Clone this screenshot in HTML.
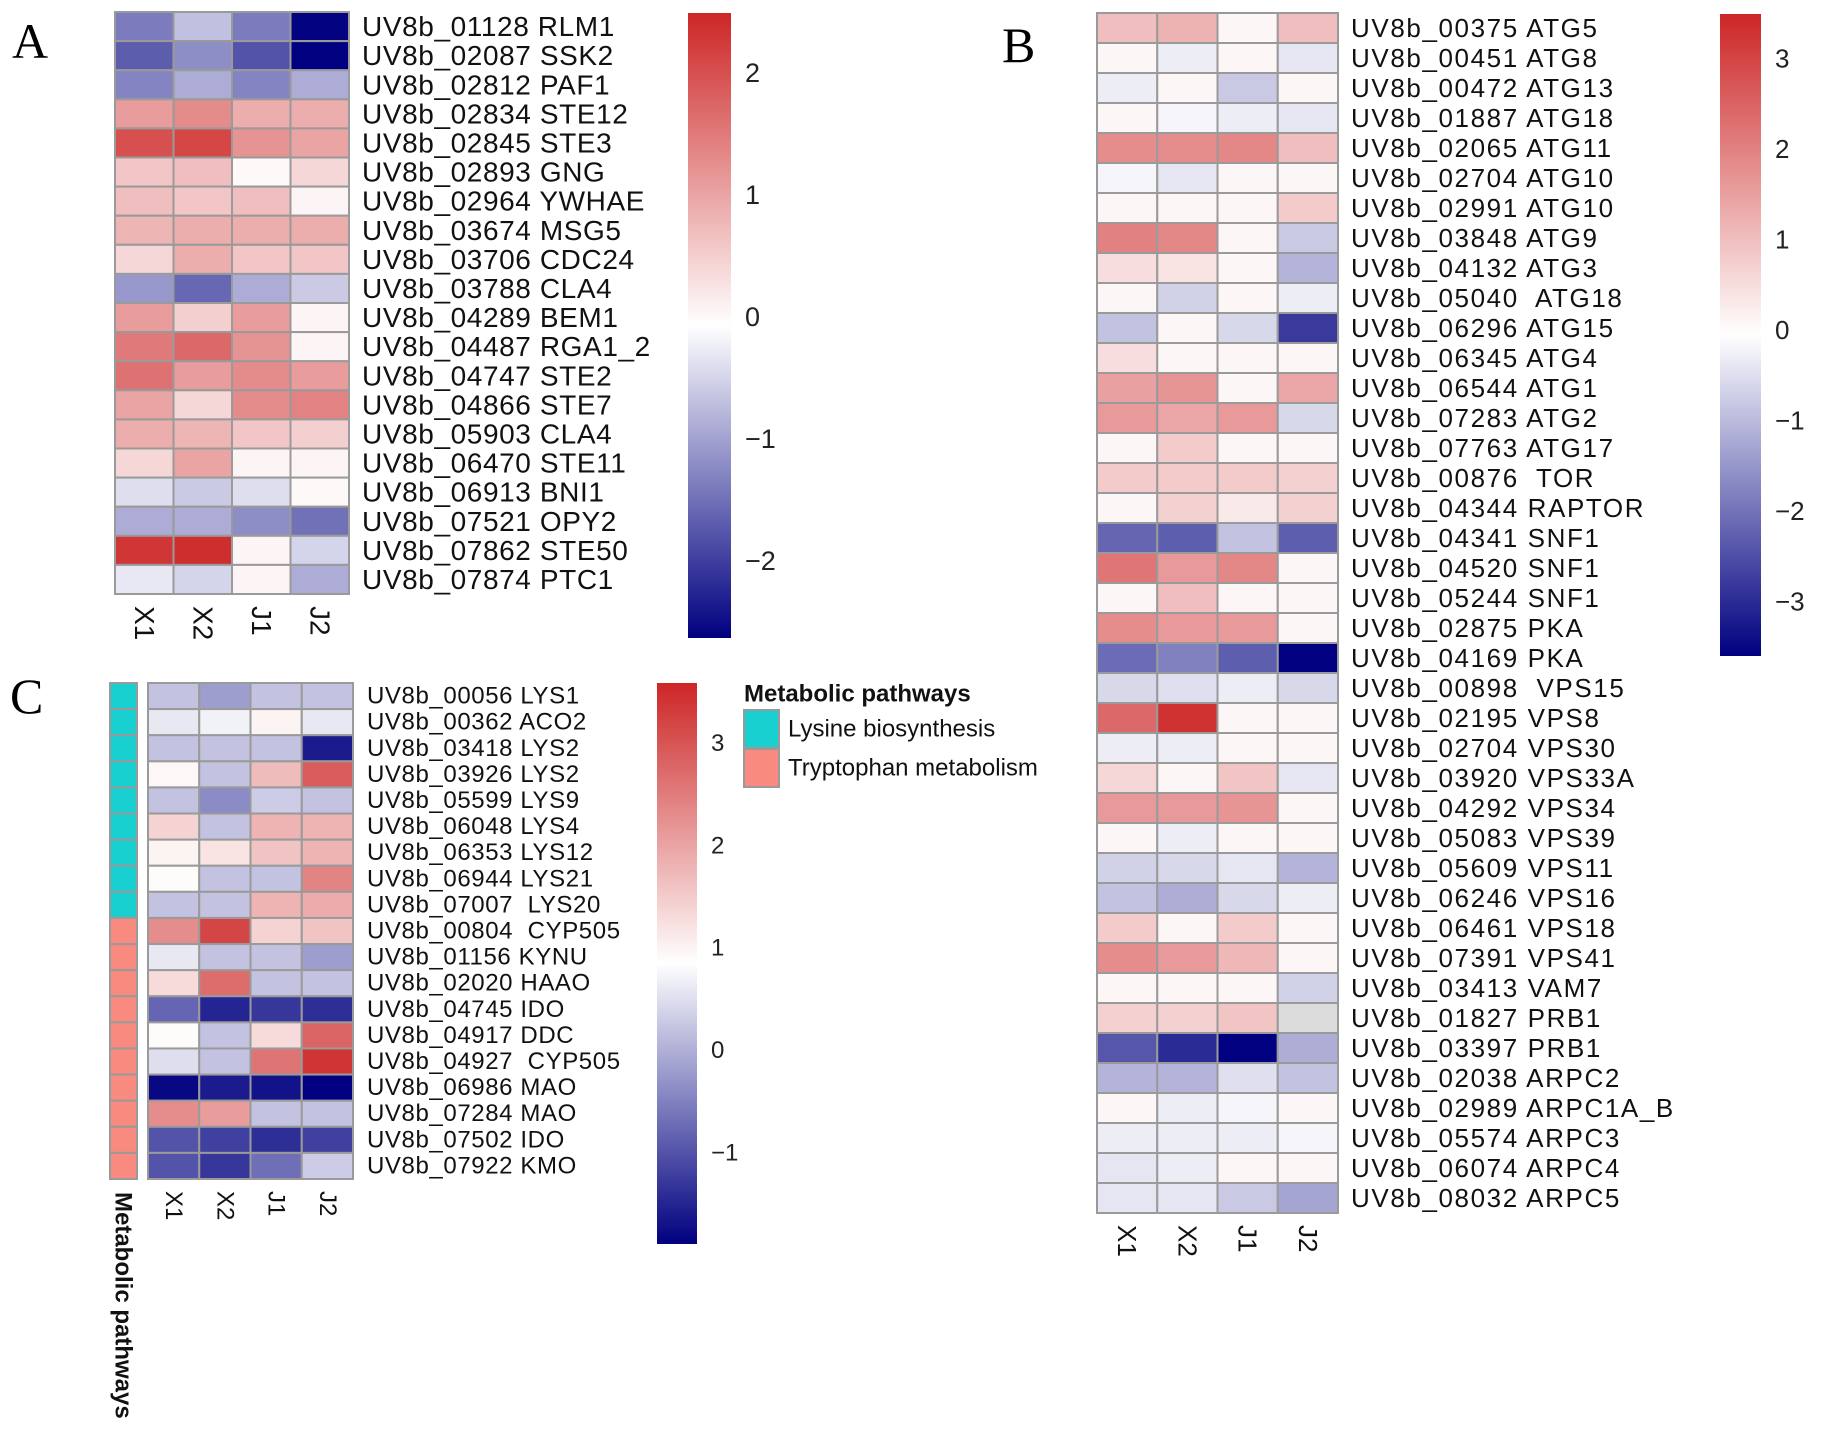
<!DOCTYPE html>
<html><head><meta charset="utf-8"><style>
body{margin:0;background:#fff}
svg{display:block;font-family:"Liberation Sans",Arial,sans-serif}
svg text{white-space:pre}
</style></head><body>
<svg id="fig" width="1831" height="1448" viewBox="0 0 1831 1448" xmlns="http://www.w3.org/2000/svg">
<defs>
<linearGradient id="grad" x1="0" y1="1" x2="0" y2="0">
<stop offset="0" stop-color="#000080"/><stop offset="0.25" stop-color="#7f7fbf"/><stop offset="0.5" stop-color="#ffffff"/><stop offset="0.75" stop-color="#e69292"/><stop offset="1" stop-color="#cd2626"/>
</linearGradient>
</defs>
<text x="12" y="58" font-family="Liberation Serif,serif" font-size="50">A</text>
<text x="1002" y="62" font-family="Liberation Serif,serif" font-size="50">B</text>
<text x="10" y="713" font-family="Liberation Serif,serif" font-size="50">C</text>
</svg>
<script>
const samples = ["X1","X2","J1","J2"];
const genesA = ["UV8b_01128 RLM1","UV8b_02087 SSK2","UV8b_02812 PAF1","UV8b_02834 STE12","UV8b_02845 STE3","UV8b_02893 GNG","UV8b_02964 YWHAE","UV8b_03674 MSG5","UV8b_03706 CDC24","UV8b_03788 CLA4","UV8b_04289 BEM1","UV8b_04487 RGA1_2","UV8b_04747 STE2","UV8b_04866 STE7","UV8b_05903 CLA4","UV8b_06470 STE11","UV8b_06913 BNI1","UV8b_07521 OPY2","UV8b_07862 STE50","UV8b_07874 PTC1"];
const valuesA = [[-1.4,-0.7,-1.4,-2.6],[-1.7,-1.2,-1.8,-2.63],[-1.3,-0.9,-1.3,-0.9],[1.1,1.3,0.9,0.9],[2.0,2.1,1.2,1.0],[0.6,0.7,0.0,0.4],[0.7,0.6,0.7,0.05],[0.8,0.9,0.9,0.9],[0.4,0.9,0.6,0.6],[-1.1,-1.6,-0.9,-0.6],[1.1,0.5,1.1,0.05],[1.5,1.7,1.2,0.05],[1.6,1.1,1.3,1.1],[1.0,0.4,1.3,1.4],[0.9,0.8,0.6,0.5],[0.4,1.0,0.05,0.05],[-0.4,-0.6,-0.4,0.0],[-0.9,-0.9,-1.2,-1.5],[2.3,2.4,0.05,-0.5],[-0.3,-0.5,0.05,-0.9]];
const ticksA = [2,1,0,-1,-2];
const genesB = ["UV8b_00375 ATG5","UV8b_00451 ATG8","UV8b_00472 ATG13","UV8b_01887 ATG18","UV8b_02065 ATG11","UV8b_02704 ATG10","UV8b_02991 ATG10","UV8b_03848 ATG9","UV8b_04132 ATG3","UV8b_05040  ATG18","UV8b_06296 ATG15","UV8b_06345 ATG4","UV8b_06544 ATG1","UV8b_07283 ATG2","UV8b_07763 ATG17","UV8b_00876  TOR","UV8b_04344 RAPTOR","UV8b_04341 SNF1","UV8b_04520 SNF1","UV8b_05244 SNF1","UV8b_02875 PKA","UV8b_04169 PKA","UV8b_00898  VPS15","UV8b_02195 VPS8","UV8b_02704 VPS30","UV8b_03920 VPS33A","UV8b_04292 VPS34","UV8b_05083 VPS39","UV8b_05609 VPS11","UV8b_06246 VPS16","UV8b_06461 VPS18","UV8b_07391 VPS41","UV8b_03413 VAM7","UV8b_01827 PRB1","UV8b_03397 PRB1","UV8b_02038 ARPC2","UV8b_02989 ARPC1A_B","UV8b_05574 ARPC3","UV8b_06074 ARPC4","UV8b_08032 ARPC5"];
const valuesB = [[1.0,1.2,0.1,1.0],[0.1,-0.3,0.1,-0.4],[-0.3,0.1,-0.8,0.1],[0.1,-0.2,-0.3,-0.4],[1.8,1.8,1.9,1.0],[-0.2,-0.4,0.1,0.1],[0.1,0.1,0.1,0.8],[2.0,1.9,0.1,-0.8],[0.5,0.4,0.1,-1.1],[0.1,-0.7,0.1,-0.3],[-0.9,0.1,-0.6,-2.8],[0.5,0.1,0.1,0.1],[1.5,1.7,0.1,1.4],[1.6,1.4,1.6,-0.6],[0.1,0.8,0.1,0.1],[0.8,0.8,0.8,0.7],[0.1,0.7,0.3,0.7],[-2.2,-2.3,-0.9,-2.3],[2.2,1.6,1.9,0.1],[0.1,1.0,0.1,0.1],[1.8,1.6,1.6,0.1],[-2.1,-1.8,-2.3,-3.6],[-0.6,-0.5,-0.3,-0.6],[2.4,3.3,0.1,0.1],[-0.3,-0.3,0.1,0.1],[0.6,0.1,0.9,-0.4],[1.6,1.6,1.7,0.1],[0.1,-0.3,0.1,0.1],[-0.7,-0.6,-0.4,-1.1],[-0.9,-1.2,-0.6,-0.3],[0.8,0.1,0.8,0.1],[1.8,1.6,1.1,0.1],[0.1,0.1,0.1,-0.7],[0.7,0.7,0.9,null],[-2.4,-3.0,-3.6,-1.2],[-1.1,-1.1,-0.5,-0.9],[0.1,-0.3,-0.2,0.1],[-0.3,-0.3,-0.3,-0.2],[-0.4,-0.3,0.1,0.1],[-0.4,-0.4,-0.8,-1.3]];
const ticksB = [3,2,1,0,-1,-2,-3];
const genesC = ["UV8b_00056 LYS1","UV8b_00362 ACO2","UV8b_03418 LYS2","UV8b_03926 LYS2","UV8b_05599 LYS9","UV8b_06048 LYS4","UV8b_06353 LYS12","UV8b_06944 LYS21","UV8b_07007  LYS20","UV8b_00804  CYP505","UV8b_01156 KYNU","UV8b_02020 HAAO","UV8b_04745 IDO","UV8b_04917 DDC","UV8b_04927  CYP505","UV8b_06986 MAO","UV8b_07284 MAO","UV8b_07502 IDO","UV8b_07922 KMO"];
const valuesC = [[0.2,-0.2,0.2,0.2],[0.6,0.7,1.0,0.6],[0.2,0.2,0.2,-1.6],[0.95,0.2,1.7,2.9],[0.2,-0.4,0.3,0.2],[1.4,0.2,1.8,1.8],[1.0,1.2,1.6,1.8],[0.9,0.2,0.2,2.4],[0.2,0.2,1.8,1.9],[2.3,3.2,1.4,1.6],[0.6,0.2,0.2,-0.2],[1.3,2.7,0.2,0.2],[-0.8,-1.5,-1.3,-1.4],[0.9,0.2,1.3,2.8],[0.5,0.2,2.6,3.4],[-1.8,-1.6,-1.7,-1.89],[2.3,2.1,0.2,0.2],[-1.0,-1.2,-1.4,-1.2],[-1.0,-1.3,-0.7,0.3]];
const pathwayC = ["Lysine biosynthesis","Lysine biosynthesis","Lysine biosynthesis","Lysine biosynthesis","Lysine biosynthesis","Lysine biosynthesis","Lysine biosynthesis","Lysine biosynthesis","Lysine biosynthesis","Tryptophan metabolism","Tryptophan metabolism","Tryptophan metabolism","Tryptophan metabolism","Tryptophan metabolism","Tryptophan metabolism","Tryptophan metabolism","Tryptophan metabolism","Tryptophan metabolism","Tryptophan metabolism"];
const ticksC = [3,2,1,0,-1];

const NS = "http://www.w3.org/2000/svg";
const svg = document.getElementById('fig');
function mk(tag, attrs, parent){const e=document.createElementNS(NS,tag);for(const k in attrs)e.setAttribute(k,attrs[k]);(parent||svg).appendChild(e);return e;}
function lerp(a,b,t){return Math.round(a+(b-a)*t);}
function colorFor(v,min,max){
  if(v===null) return '#dcdcdc';
  const mid=(min+max)/2;
  let r,g,b;
  if(v<=mid){const t=Math.max(0,(v-min)/(mid-min));r=lerp(0,255,t);g=lerp(0,255,t);b=lerp(128,255,t);}
  else{const t=Math.min(1,(v-mid)/(max-mid));r=lerp(255,205,t);g=lerp(255,38,t);b=lerp(255,38,t);}
  return `rgb(${r},${g},${b})`;
}
function panel(p){
  const g=mk('g',{});
  
  
  const cw=(p.x1-p.x0)/samples.length, rh=(p.y1-p.y0)/p.genes.length;
  p.values.forEach((row,i)=>{
    row.forEach((v,j)=>{
      const r=mk('rect',{x:p.x0+j*cw,y:p.y0+i*rh,width:cw,height:rh,fill:colorFor(v,p.min,p.max),stroke:'#9a9a9a','stroke-width':2},g);
      
      
    });
    const t=mk('text',{x:p.lx,y:p.y0+(i+0.5)*rh,'font-size':p.fs,'letter-spacing':p.ls,'dominant-baseline':'central',fill:'#111'},g);
    t.textContent=p.genes[i];
    
    
  });
  samples.forEach((s,j)=>{
    const cx=p.x0+(j+0.5)*cw;
    const t=mk('text',{x:0,y:0,'font-size':p.fs,transform:`translate(${cx},${p.y1+12}) rotate(90)`,'dominant-baseline':'central',fill:'#111'},g);
    t.textContent=s;
    
    
  });
  const cb=mk('rect',{x:p.cbx,y:p.cby0,width:p.cbw,height:p.cby1-p.cby0,fill:'url(#grad)'},g);
  
  
  const sc=v=>p.cby1-(v-p.min)/(p.max-p.min)*(p.cby1-p.cby0);
  p.ticks.forEach(tv=>{
    const t=mk('text',{x:p.cbx+p.cbw+14,y:sc(tv),'font-size':p.tfs,'dominant-baseline':'central',fill:'#222'},g);
    t.textContent=tv<0?'\u2212'+Math.abs(tv):String(tv);
    
    
  });
  return {cw,rh};
}
panel({name:'panel-a',genes:genesA,values:valuesA,ticks:ticksA,min:-2.63,max:2.49,x0:115,x1:349,y0:12,y1:594,lx:362,fs:28,ls:0.6,cbx:688,cbw:43,cby0:13,cby1:638,tfs:27});
panel({name:'panel-b',genes:genesB,values:valuesB,ticks:ticksB,min:-3.6,max:3.49,x0:1097,x1:1338,y0:13,y1:1213,lx:1351,fs:26,ls:1.6,cbx:1720,cbw:41,cby0:14,cby1:656,tfs:26});
const pc=panel({name:'panel-c',genes:genesC,values:valuesC,ticks:ticksC,min:-1.89,max:3.59,x0:148,x1:353,y0:683,y1:1179,lx:367,fs:24,ls:0.6,cbx:657,cbw:40,cby0:683,cby1:1244,tfs:24});
const pathColors={"Lysine biosynthesis":"#18d0d0","Tryptophan metabolism":"#f88a80"};
pathwayC.forEach((pw,i)=>{
  const r=mk('rect',{x:110,y:683+i*pc.rh,width:27,height:pc.rh,fill:pathColors[pw],stroke:'#9a9a9a','stroke-width':2});
  
  
});
const at=mk('text',{x:0,y:0,'font-size':24,'font-weight':'bold',transform:'translate(123,1192) rotate(90)','dominant-baseline':'central',fill:'#111'});
at.textContent='Metabolic pathways';


const lt=mk('text',{x:744,y:694,'font-size':24,'font-weight':'bold','dominant-baseline':'central',fill:'#111'});
lt.textContent='Metabolic pathways';


Object.keys(pathColors).forEach((k,i)=>{
  const y=710+i*39;
  const r=mk('rect',{x:744,y:y,width:35,height:38,fill:pathColors[k],stroke:'#9a9a9a','stroke-width':2});
  
  
  const t=mk('text',{x:788,y:y+19,'font-size':24,'dominant-baseline':'central',fill:'#111'});
  t.textContent=k;
  
  
});
</script>
</body></html>
